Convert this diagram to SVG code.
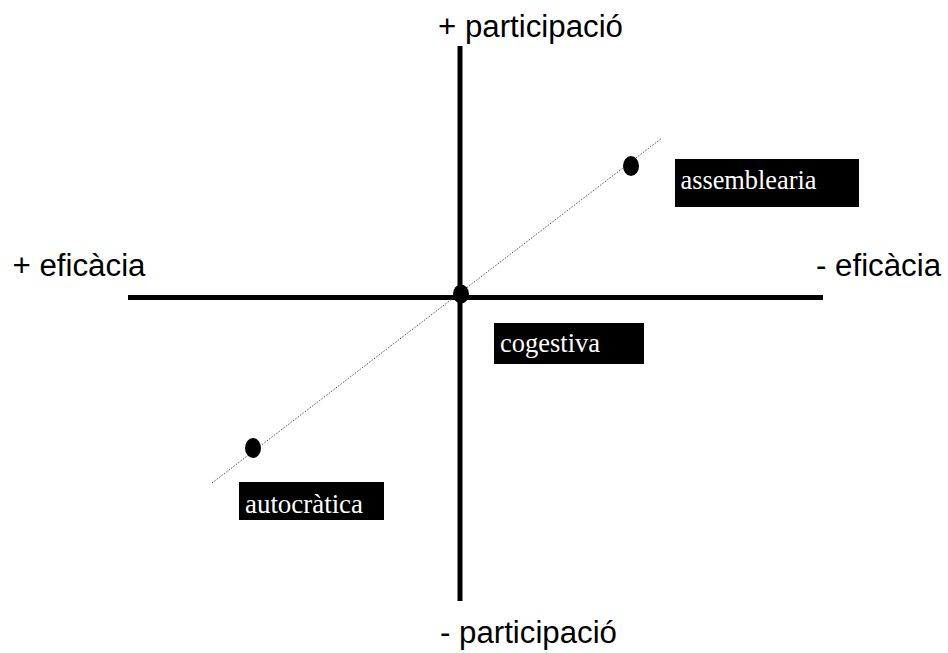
<svg xmlns="http://www.w3.org/2000/svg" width="948" height="653" viewBox="0 0 948 653">
  <style>
    .axis { stroke: #000; stroke-width: 5; fill: none; }
    .diag { stroke: #555; stroke-width: 1; stroke-dasharray: 1.5 1.5; fill: none; }
    .dot { fill: #000; }
    .box { fill: #000; }
    .boxtext { font-family: "Liberation Serif", "Times New Roman", serif; font-size: 26.5px; fill: #fff; }
    .axtext { font-family: "Liberation Sans", Arial, sans-serif; font-size: 31px; fill: #000; }
  </style>
  <rect width="948" height="653" fill="#fff"/>

  <!-- axes and the dotted diagonal -->
  <g id="connectors">
    <line class="axis" x1="460" y1="46" x2="460" y2="601"/>
    <line class="axis" x1="128" y1="297.5" x2="823" y2="297.5"/>
    <line class="diag" x1="212" y1="483" x2="662" y2="138"/>
  </g>

  <!-- axis labels -->
  <g id="label-top"><text class="axtext" x="438" y="37" textLength="185" lengthAdjust="spacingAndGlyphs">+ participació</text></g>
  <g id="label-bottom"><text class="axtext" x="440" y="643" textLength="177" lengthAdjust="spacingAndGlyphs">- participació</text></g>
  <g id="label-left"><text class="axtext" x="12.5" y="276" textLength="133" lengthAdjust="spacingAndGlyphs">+ eficàcia</text></g>
  <g id="label-right"><text class="axtext" x="816" y="276" textLength="125" lengthAdjust="spacingAndGlyphs">- eficàcia</text></g>

  <!-- points on the diagonal -->
  <g id="node-assemblearia">
    <ellipse class="dot" cx="631" cy="166" rx="8" ry="10"/>
    <rect class="box" x="675" y="159" width="184" height="48"/>
    <text class="boxtext" x="680.5" y="189" textLength="136" lengthAdjust="spacingAndGlyphs">assemblearia</text>
  </g>
  <g id="node-cogestiva">
    <ellipse class="dot" cx="461" cy="294" rx="8" ry="9.5"/>
    <rect class="box" x="494" y="323" width="150" height="41"/>
    <text class="boxtext" x="500" y="352" textLength="100" lengthAdjust="spacingAndGlyphs">cogestiva</text>
  </g>
  <g id="node-autocratica">
    <ellipse class="dot" cx="253" cy="448" rx="8" ry="10"/>
    <rect class="box" x="239" y="482" width="145" height="38"/>
    <text class="boxtext" x="245" y="513" textLength="118" lengthAdjust="spacingAndGlyphs">autocràtica</text>
  </g>
</svg>
